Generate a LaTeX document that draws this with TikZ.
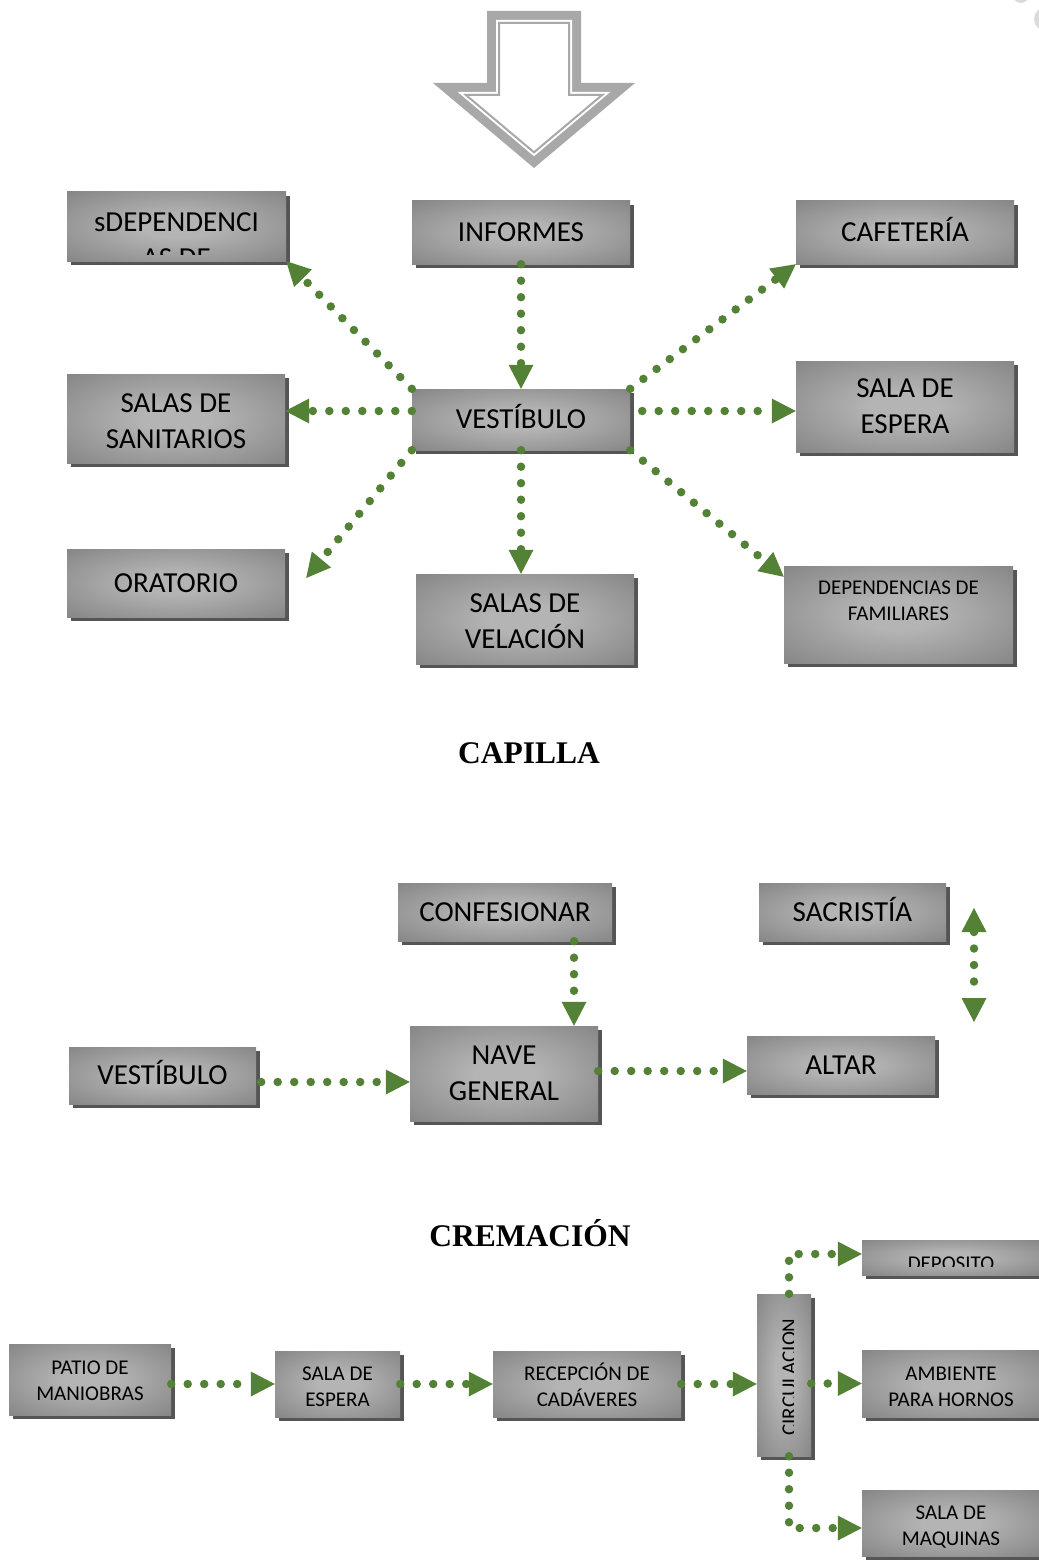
\documentclass[tikz,border=0pt]{standalone}
\usepackage{fontspec}
\newfontfamily\boxfont{Carlito}
\newfontfamily\titlefont{Liberation Serif}
\usetikzlibrary{arrows.meta,shadows,calc}
\definecolor{boxlight}{RGB}{180,180,180}
\definecolor{boxdark}{RGB}{120,120,120}
\definecolor{shgray}{RGB}{85,85,85}
\definecolor{flow}{RGB}{83,129,53}
\definecolor{arrgray}{RGB}{168,168,168}
\pgfdeclareradialshading{boxgrad}{\pgfpoint{0bp}{0bp}}{color(0bp)=(boxlight); color(8bp)=(boxlight); color(44bp)=(boxdark); color(50bp)=(boxdark)}
\newcommand{\bigtxt}{\boxfont\fontsize{29pt}{36pt}\selectfont}
\newcommand{\smalltxt}{\boxfont\fontsize{21pt}{26pt}\selectfont}
\tikzset{
  box/.style={rectangle, shade, shading=boxgrad, draw=none, inner sep=0pt, align=center, font=\bigtxt,
    drop shadow={shadow xshift=4pt, shadow yshift=-4pt, fill=shgray, opacity=1}},
  boxs/.style={box, font=\smalltxt},
  btext/.style={inner sep=0pt, align=center, font=\bigtxt},
  stext/.style={inner sep=0pt, align=center, font=\smalltxt},
  title/.style={inner sep=0pt, font=\titlefont\bfseries\fontsize{31.5pt}{36pt}\selectfont},
  tip/.tip={Triangle[length=24pt,width=25pt,line width=0pt]},
  flowline/.style={draw=flow, line width=8.5pt, line cap=round, dash pattern=on 0pt off 16.5pt, -tip},
  flowboth/.style={flowline, tip-tip}
}
\begin{document}
\begin{tikzpicture}[x=1pt,y=-1pt]
\useasboundingbox (0,0) rectangle (1038,1562);
% faint marks top right
\fill[black!14] (1021,-5) circle (8);
\fill[black!14] (1046,19) circle (12);
% block arrow
\fill[arrgray] (487,11) -- (581,11) -- (581,83) -- (635,83) -- (534,168) -- (433,83) -- (487,83) -- cycle;
\fill[white] (496,20) -- (572,20) -- (572,92) -- (610.3,92) -- (534,156.2) -- (457.7,92) -- (496,92) -- cycle;
\draw[arrgray, line width=2pt] (499,23) -- (569,23) -- (569,95) -- (602.1,95) -- (534,152.3) -- (465.9,95) -- (499,95) -- cycle;

% ---------- top section ----------
\node[box, minimum width=219pt, minimum height=69pt] (depA) at (176.5,226.5) {};
\begin{scope}
  \clip (67,192) rectangle (286,255);
  \node[btext] (depAtxt) at (176.5,240) {sDEPENDENCI\\AS DE};
\end{scope}
\node[box, minimum width=218pt, minimum height=63pt] (inf) at (521,232.5) {INFORMES};
\node[box, minimum width=218pt, minimum height=63pt] (caf) at (905,232.5) {CAFETER\smash{Í}A};
\node[box, minimum width=218pt, minimum height=89pt] (san) at (176,418.5) {};
\node[btext] (santxt) at (176,421) {SALAS DE\\SANITARIOS};
\node[box, minimum width=218pt, minimum height=61pt] (vest) at (521,419.5) {VEST\smash{Í}BULO};
\node[box, minimum width=218pt, minimum height=91pt] (esp) at (905,406.5) {SALA DE\\ESPERA};
\node[box, minimum width=218pt, minimum height=68pt] (orat) at (176,583) {ORATORIO};
\node[box, minimum width=218pt, minimum height=90pt] (vel) at (525,619) {};
\node[btext] (veltxt) at (525,621) {SALAS DE\\VELACIÓN};
\node[box, minimum width=229pt, minimum height=97pt] (depfam) at (898.5,614.5) {};
\node[stext] (depfamtxt) at (898.5,601) {DEPENDENCIAS DE\\FAMILIARES};

\draw[flowline] (inf.south) -- (vest.north);
\draw[flowline] (vest.north west) -- (depA.south east);
\draw[flowline] (vest.north east) -- (caf.south west);
\draw[flowline] ([yshift=8.5pt]vest.west) -- ([yshift=7.5pt]san.east);
\draw[flowline] ([xshift=12pt,yshift=8.5pt]vest.east) -- ([yshift=-4.5pt]esp.west);
\draw[flowline] (vest.south west) -- ([xshift=21pt,yshift=5pt]orat.east);
\draw[flowline] (vest.south) -- (vest.south |- vel.north);
\draw[flowline] (vest.south east) -- ([yshift=-11pt]depfam.north west);

\node[title] (capilla) at (529,753) {CAPILLA};

% ---------- capilla section ----------
\node[box, minimum width=214pt, minimum height=58pt] (conf) at (505,912) {CONFESIONAR};
\node[box, minimum width=187pt, minimum height=58pt] (sac) at (852.5,912) {SACRIST\smash{Í}A};
\node[box, minimum width=188pt, minimum height=95pt] (nave) at (504,1073.5) {NAVE\\GENERAL};
\node[box, minimum width=187pt, minimum height=57pt] (vest2) at (162.5,1075.5) {VEST\smash{Í}BULO};
\node[box, minimum width=188pt, minimum height=58pt] (altar) at (841,1065) {ALTAR};

\draw[flowline] ([xshift=69pt]conf.south) -- ([xshift=70pt]nave.north);
\draw[flowline] ([xshift=5pt,yshift=-6.5pt]vest2.east) -- ([yshift=-8.5pt]nave.west);
\draw[flowline] ([yshift=2.5pt]nave.east) -- ([yshift=-6pt]altar.west);
\coordinate (dtop) at (974,908);
\coordinate (dbot) at (974,1022);
\draw[flowboth] (dtop) -- (dbot);

\node[title] (crem) at (530,1236) {CREMACI\smash{Ó}N};

% ---------- cremacion section ----------
\node[boxs, minimum width=162pt, minimum height=71pt] (patio) at (90,1379.5) {};
\node[stext] (patiotxt) at (90,1381) {PATIO DE\\MANIOBRAS};
\node[boxs, minimum width=125pt, minimum height=66pt] (sala) at (337.5,1384) {};
\node[stext] (salatxt) at (337.5,1386.5) {SALA DE\\ESPERA};
\node[boxs, minimum width=188pt, minimum height=66pt] (rec) at (587,1384) {};
\node[stext] (rectxt) at (587,1386.5) {RECEPCI\smash{Ó}N DE\\CADÁVERES};
\node[boxs, minimum width=54pt, minimum height=162pt] (circ) at (784,1375) {};
\begin{scope}
  \clip (757,1294) rectangle (793.5,1456);
  \node[stext, rotate=90] (circtxt) at (789.5,1377) {CIRCULACION};
\end{scope}
\node[boxs, minimum width=178pt, minimum height=35pt] (dep) at (951,1257.5) {};
\begin{scope}
  \clip (862,1240) rectangle (1040,1266.5);
  \node[stext] (deptxt) at (951,1263.5) {DEPOSITO};
\end{scope}
\node[boxs, minimum width=178pt, minimum height=67pt] (amb) at (951,1383.5) {};
\node[stext] (ambtxt) at (951,1386.5) {AMBIENTE\\PARA HORNOS};
\node[boxs, minimum width=178pt, minimum height=66pt] (maq) at (951,1523) {};
\node[stext] (maqtxt) at (951,1527) {SALA DE\\MAQUINAS};

\draw[flowline] (sala.west -| patio.east) -- (sala.west);
\draw[flowline] (sala.east) -- (rec.west);
\draw[flowline] (rec.east) -- (rec.east -| circ.west);
\draw[flowline] (amb.west -| circ.east) -- (amb.west);
\draw[flowline] ([xshift=5pt]circ.north) |- ([yshift=3.5pt]dep.west);
\draw[flowline] ([xshift=5pt]circ.south) |- ([yshift=-5pt]maq.west);
\end{tikzpicture}
\end{document}
